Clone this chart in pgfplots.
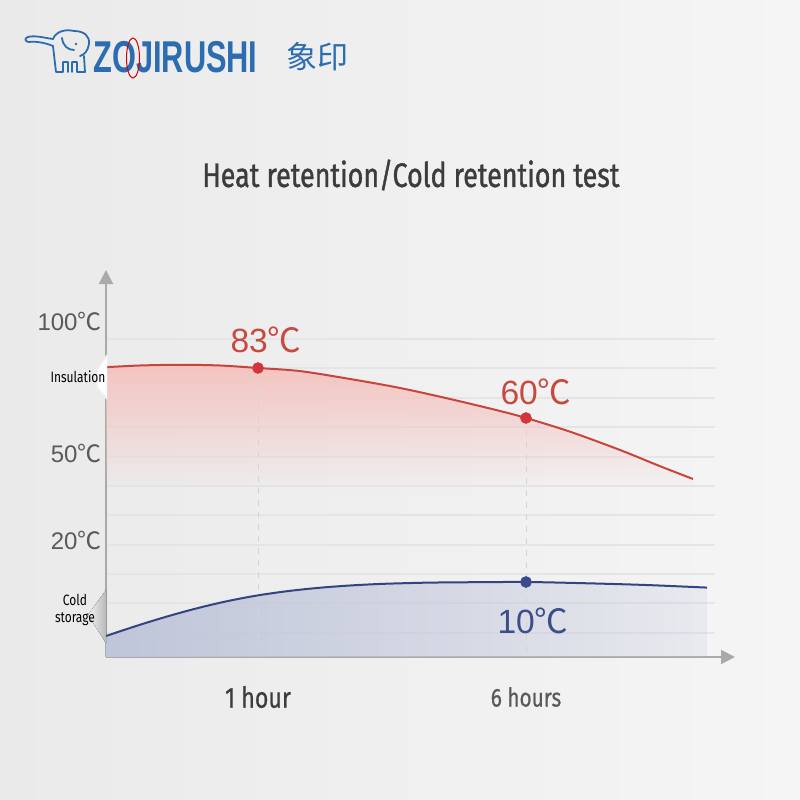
\documentclass[border=0pt]{standalone}
\usepackage{fontspec}
\setmainfont{Liberation Sans}
\newfontfamily\cjk{Noto Sans CJK SC}
\newfontfamily\cond[FakeStretch=0.8]{Fira Sans}
\newfontfamily\condb[FakeStretch=0.8,FakeBold=0.6]{Fira Sans}
\newfontfamily\condt[FakeStretch=0.79,FakeBold=1.1]{Fira Sans}
\usepackage{pgfplots}
\pgfplotsset{compat=1.18}
\usetikzlibrary{arrows.meta,fadings}
\definecolor{bgL}{HTML}{EAEAEB}
\definecolor{bgR}{HTML}{F5F5F6}
\definecolor{gridc}{HTML}{E5E5E8}
\definecolor{dashc}{HTML}{D4D4D8}
\definecolor{axgray}{HTML}{AAAAAA}
\definecolor{redl}{HTML}{C8453C}
\definecolor{redd}{HTML}{D3363A}
\definecolor{redt}{HTML}{C84A3F}
\definecolor{pinkA}{HTML}{F4C4C0}
\definecolor{bluel}{HTML}{34447F}
\definecolor{blued}{HTML}{3A4A8E}
\definecolor{bluet}{HTML}{3D4D8A}
\definecolor{blueA}{HTML}{C0C6DA}
\definecolor{logob}{HTML}{2C6CB1}
\definecolor{labg}{HTML}{5A5A5A}
\definecolor{titc}{HTML}{3C3C3C}
\tikzfading[name=fadedown, top color=transparent!0, middle color=transparent!65, bottom color=transparent!100]
\tikzfading[name=faderight, left color=transparent!0, right color=transparent!80]
\pgfdeclarehorizontalshading{fadeendsh}{100bp}{color(0bp)=(transparent!0); color(80bp)=(transparent!0); color(100bp)=(transparent!85)}
\pgfdeclarefading{fadeend}{\pgfuseshading{fadeendsh}}
\newcommand{\dc}{{\cjk ℃}}
\pgfplotstableread{
t T
0 83.29
0.2237 83.90
0.4868 84.16
0.75 83.90
1 83
1.7836 81.57
2.7164 77.94
3.6493 73.80
4.5821 68.74
5.5149 63.22
6 60
6.8209 56.09
7.7537 50.86
8.5 45.45
9.1157 41.03
}\heat
\pgfplotstableread{
t T
0 -2.857
0.1316 -1.262
0.2632 0.269
0.3947 1.712
0.5263 3.052
0.6579 4.279
0.7895 5.374
0.9211 6.321
1 6.821
1.1493 7.119
1.5224 7.779
1.8955 8.319
2.2687 8.757
2.6418 9.107
3.0149 9.381
3.3881 9.588
4.1343 9.840
4.8806 9.938
6 10
7.1194 9.700
8.2388 9.286
9.3769 8.667
}\cold
\begin{document}
\begin{tikzpicture}
\begin{scope}[x=0.5pt,y=-0.5pt,yshift=400pt]
  \fill[left color=bgL, right color=bgR] (0,0) rectangle (800,800);
  \foreach \g in {339,368,398,427,457,486,515,545,574,603,633}{
    \draw[gridc, line width=0.6pt] (106,\g) -- (715,\g);
  }
  % logo elephant
  \begin{scope}[logob, line width=0.9pt, line cap=round, line join=round]
    \draw (53,39) .. controls (45,38) and (35,35) .. (28,37) .. controls (24,38) and (25,42) .. (29,42) .. controls (36,41) and (46,43) .. (53,46);
    \draw (53,39) .. controls (56,31) and (66,29) .. (74,31) .. controls (84,31) and (90,36) .. (89,44) .. controls (88,51) and (84,55) .. (80,56);
    \draw (62,38) .. controls (63,46) and (68,50) .. (74,50);
    \fill (76,44) circle (1.3);
    \draw (53,46) -- (56,72) -- (63,72) -- (63,62) -- (68,62) -- (68,72);
    \draw (72,72) -- (72,62) -- (77,62) -- (77,72) -- (85,72) -- (84,56);
  \end{scope}
  \node[anchor=west, inner sep=0pt, logob] at (93,57) {\scalebox{0.69}[1]{\fontsize{22.3pt}{22pt}\selectfont\bfseries ZOJIRUSHI}};
  \draw[red!80!black, line width=0.5pt] (133,58) ellipse (6.5 and 20);
  \node[anchor=west, inner sep=0pt, logob] at (286,57) {\cjk\fontsize{15.5pt}{16pt}\selectfont 象印};
  % title
  \node[titc, inner sep=0pt] at (411,175) {\condt\fontsize{17pt}{17pt}\selectfont Heat retention/Cold retention test};
\end{scope}

\begin{axis}[
  at={(53pt,71.5pt)}, anchor=south west,
  scale only axis, width=314.5pt, height=193.5pt,
  xmin=0, xmax=9.899, ymin=-7.857, ymax=118.45,
  x coord trafo/.code={\pgfmathparse{(#1<1) ? (152*#1) : (152+53.6*(#1-1))}},
  y coord trafo/.code={\pgfmathparse{(#1<20) ? (75+4.2*(#1-10)) : ((#1<50) ? (117+2.9*(#1-20)) : ((#1<60) ? (204+3.5*(#1-50)) : ((#1<83) ? (239+2.17391*(#1-60)) : (289+2.76471*(#1-83)))))}},
  axis x line=bottom, axis y line=left,
  axis line style={draw=axgray, line width=1pt, -{Triangle[width=7pt,length=7pt]}},
  xtick={1,6},
  xticklabels={{\condb\fontsize{14.5pt}{15pt}\selectfont\color{titc}1 hour},{\condb\fontsize{13pt}{14pt}\selectfont\color{labg}6 hours}},
  ytick={20,50,100},
  yticklabels={{20\dc},{50\dc},{100\dc}},
  yticklabel style={anchor=east, inner sep=0pt, xshift=-2pt, font=\fontsize{12pt}{12pt}\selectfont, text=labg},
  xticklabel style={anchor=center, yshift=-20pt},
  major tick length=0pt,
  clip=false,
]
% red fill
\addplot[draw=none, fill=pinkA, path fading=fadedown, smooth] table[x=t,y=T] {\heat}
  -- (rel axis cs:0.9332,0.4315) -- (rel axis cs:0,0.4315) -- cycle;
% blue fill
\addplot[draw=none, fill=blueA, path fading=faderight, smooth] table[x=t,y=T] {\cold}
  -- (rel axis cs:0.9555,0) -- (rel axis cs:0,0) -- cycle;
% dashed verticals
\addplot[dashc, dashed, line width=0.5pt] coordinates {(1,83) (1,-7.857)};
\addplot[dashc, dashed, line width=0.5pt] coordinates {(6,60) (6,-7.857)};
% lines
\addplot[redl, line width=1pt, smooth, path fading=fadeend] table[x=t,y=T] {\heat};
\addplot[bluel, line width=1pt, smooth] table[x=t,y=T] {\cold};
% dots
\addplot[only marks, mark=*, mark size=2.7pt, redd] coordinates {(1,83) (6,60)}
  node[pos=0, anchor=base, xshift=4pt, yshift=8pt, text=redt, font=\fontsize{16.8pt}{17pt}\selectfont] {83\dc}
  node[pos=1, anchor=base, xshift=5pt, yshift=7pt, text=redt, font=\fontsize{16.8pt}{17pt}\selectfont] {60\dc};
\addplot[only marks, mark=*, mark size=2.7pt, blued] coordinates {(6,10)}
  node[pos=0, anchor=base, xshift=3.5pt, yshift=-25.5pt, text=bluet, font=\fontsize{16.8pt}{17pt}\selectfont] {10\dc};
\end{axis}

\begin{scope}[x=0.5pt,y=-0.5pt,yshift=400pt]
  % insulation tab
  \fill[gray!12] (107,354) -- (96,369) -- (96,388) -- (107,400) -- cycle;
  \fill[white] (107,357) -- (98,370) -- (98,387) -- (107,397) -- cycle;
  \node[inner sep=0pt] at (78,377) {\cond\fontsize{7.5pt}{8pt}\selectfont Insulation};
  % cold storage tab
  \fill[left color=gray!10, right color=gray!55] (106,590) -- (88,615) -- (106,643) -- cycle;
  \node[inner sep=0pt] at (75,600) {\cond\fontsize{7.5pt}{8pt}\selectfont Cold};
  \node[inner sep=0pt] at (75,619) {\cond\fontsize{7.5pt}{8pt}\selectfont storage};
\end{scope}
\pgfresetboundingbox
\useasboundingbox (0,0) rectangle (400pt,400pt);
\end{tikzpicture}
\end{document}
